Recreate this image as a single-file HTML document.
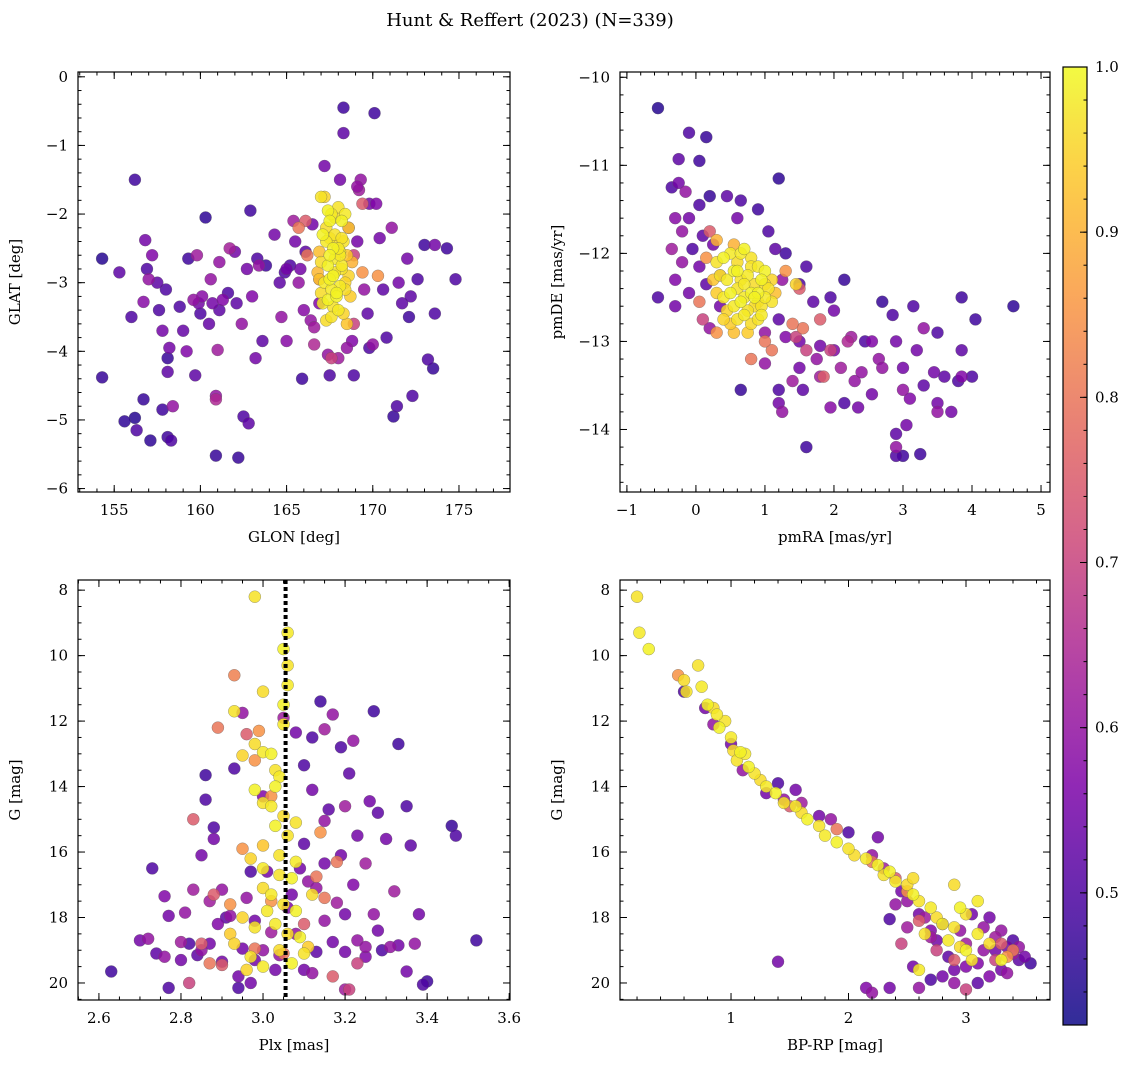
<!DOCTYPE html>
<html><head><meta charset="utf-8"><style>
body{margin:0;background:#fff;}
svg{display:block;font-family:"DejaVu Serif","Liberation Serif",serif;}
</style></head><body>
<svg id="chart" width="1136" height="1067" viewBox="0 0 1136 1067" xmlns="http://www.w3.org/2000/svg">
<text x="530" y="26" font-size="18" text-anchor="middle">Hunt &amp; Reffert (2023) (N=339)</text>
</svg>
<script>
// ---- Panel 1: GLON vs GLAT ----
const glonLow=[154.3,154.3,155.3,155.6,156.0,156.2,156.2,156.3,156.7,156.8,156.7,156.9,157.0,157.1,157.2,157.5,157.6,157.8,157.8,158.0,158.1,158.1,158.2,158.1,158.3,158.4,158.8,159.0,159.2,159.3,159.6,159.7,159.8,159.9,160.0,160.1,160.3,160.5,160.6,160.7,160.9,160.9,160.9,161.0,161.1,161.1,161.3,161.6,161.7,162.0,162.1,162.2,162.4,162.5,162.7,162.8,162.9,163.0,163.2,163.3,163.4,163.6,163.8,164.3,164.6,164.7,164.9,165.0,165.0,165.2,165.4,165.5,165.7,165.9,165.8,166.0,166.1,166.4,166.5,166.6,166.9,167.2,167.4,167.5,168.0,168.1,168.3,168.3,168.5,168.8,168.9,169.2,169.1,169.5,169.7,169.8,170.2,170.1,170.4,170.6,170.8,171.1,171.2,171.4,171.5,171.7,172.1,172.0,172.3,172.2,172.6,173.0,173.2,173.5,173.6,173.6,174.3,174.8,169.8,169.3];
const glatLow=[-2.65,-4.38,-2.85,-5.02,-3.5,-1.5,-4.97,-5.15,-4.7,-2.38,-3.28,-2.8,-2.95,-5.3,-2.6,-3.0,-3.4,-3.7,-4.85,-3.1,-4.3,-4.1,-3.95,-5.25,-5.3,-4.8,-3.35,-3.7,-4.0,-2.65,-3.25,-4.35,-2.6,-3.3,-3.45,-3.2,-2.05,-3.6,-2.95,-3.3,-4.7,-4.65,-5.52,-3.98,-3.4,-2.7,-3.25,-3.15,-2.5,-2.55,-3.3,-5.55,-3.6,-4.95,-2.8,-5.05,-1.95,-3.2,-4.1,-2.65,-2.75,-3.85,-2.75,-2.3,-3.0,-3.5,-2.85,-3.85,-2.8,-2.75,-2.1,-2.4,-3.0,-4.4,-2.8,-3.4,-2.55,-3.55,-2.15,-3.65,-3.3,-1.3,-4.05,-4.35,-4.1,-1.5,-0.45,-0.82,-3.95,-3.85,-4.35,-1.65,-2.4,-3.1,-3.45,-3.95,-1.85,-0.53,-2.35,-3.1,-3.8,-2.2,-4.95,-4.8,-3.0,-3.3,-3.5,-2.65,-4.65,-3.2,-2.95,-2.45,-4.12,-4.25,-2.45,-3.45,-2.5,-2.95,-1.85,-1.5];
const probLow1=[0.45,0.47,0.52,0.46,0.5,0.48,0.45,0.5,0.47,0.55,0.58,0.5,0.6,0.46,0.57,0.52,0.5,0.55,0.48,0.5,0.52,0.47,0.55,0.48,0.5,0.6,0.5,0.53,0.57,0.48,0.6,0.52,0.62,0.55,0.5,0.58,0.46,0.53,0.6,0.55,0.65,0.6,0.47,0.62,0.52,0.6,0.57,0.5,0.63,0.55,0.52,0.47,0.6,0.5,0.55,0.52,0.48,0.57,0.55,0.5,0.6,0.52,0.48,0.55,0.52,0.6,0.5,0.58,0.55,0.5,0.62,0.55,0.6,0.48,0.55,0.58,0.52,0.6,0.55,0.62,0.57,0.55,0.6,0.5,0.62,0.55,0.48,0.52,0.6,0.57,0.5,0.62,0.55,0.6,0.52,0.5,0.57,0.48,0.55,0.52,0.5,0.6,0.47,0.5,0.55,0.52,0.48,0.55,0.5,0.52,0.5,0.48,0.5,0.47,0.55,0.5,0.48,0.5,0.55,0.6];
const glonMid=[166.1,166.9,168.9,168.6,169.4,170.0,166.6,166.2,169.4,169.1,170.3,167.6,168.9,165.7];
const glatMid=[-2.1,-2.95,-2.6,-2.2,-1.85,-3.9,-3.9,-2.6,-2.85,-1.6,-2.9,-4.1,-3.6,-2.2];
const probMid1=[0.75,0.7,0.7,0.65,0.75,0.6,0.65,0.8,0.85,0.6,0.85,0.7,0.7,0.8];
const glonHigh=[167.0,167.2,167.4,167.6,167.8,168.0,168.2,168.4,168.6,167.1,167.3,167.5,167.7,167.9,168.1,168.3,168.5,167.0,167.4,167.8,168.2,168.6,166.9,167.2,167.5,167.8,168.1,168.4,168.7,167.1,167.4,167.7,168.0,168.3,167.3,167.6,167.9,168.2,167.5,167.8,168.1,167.7,168.0,166.9,168.8,167.3,168.4,167.6,167.9,168.2,166.8,167.0,168.5,167.5];
const glatHigh=[-1.75,-1.75,-1.95,-2.0,-2.05,-1.9,-2.1,-2.0,-2.2,-2.3,-2.4,-2.35,-2.5,-2.45,-2.55,-2.4,-2.6,-2.7,-2.75,-2.65,-2.8,-2.9,-2.95,-3.0,-2.95,-2.85,-3.05,-3.1,-3.2,-3.3,-3.25,-3.35,-3.4,-3.45,-3.55,-3.5,-3.2,-2.75,-2.1,-2.3,-2.6,-2.9,-2.5,-2.55,-2.7,-2.2,-3.0,-3.1,-3.15,-2.35,-2.85,-3.15,-3.6,-2.6];
const probHigh1=[0.97,0.95,0.99,0.98,0.96,0.97,0.99,0.98,0.94,0.99,0.98,0.97,0.99,0.96,0.98,0.97,0.93,0.96,0.99,0.98,0.97,0.95,0.93,0.98,0.99,0.97,0.98,0.96,0.94,0.98,0.99,0.97,0.98,0.95,0.96,0.97,0.99,0.98,0.99,0.97,0.98,0.99,0.98,0.92,0.9,0.96,0.95,0.98,0.99,0.97,0.91,0.96,0.93,0.99];

// ---- Panel 2: pmRA vs pmDE ----
const pmraLow=[-0.55,-0.1,0.15,-0.25,0.05,-0.25,-0.35,0.2,-0.15,0.45,0.05,-0.1,1.2,0.65,0.9,-0.3,0.6,-0.2,0.1,-0.05,-0.35,0.25,1.05,1.15,1.3,-0.2,0.05,1.6,-0.3,0.15,-0.1,1.25,1.5,2.15,-0.55,-0.3,1.7,1.95,2.0,1.0,1.3,1.5,1.2,0.2,0.35,0.65,1.0,1.2,1.4,1.5,1.55,1.75,1.8,2.0,2.1,2.15,1.6,1.2,1.25,1.8,2.45,2.55,2.7,2.65,2.85,2.9,2.9,2.9,2.9,3.0,3.0,3.1,3.15,3.2,3.25,3.3,3.3,3.45,3.5,3.5,3.6,3.7,3.8,3.85,3.85,3.85,4.0,4.05,4.6,3.05,2.3,2.25,2.35,1.95,3.0,2.55,3.5,2.7];
const pmdeLow=[-10.35,-10.63,-10.68,-10.93,-10.95,-11.2,-11.25,-11.35,-11.3,-11.35,-11.45,-11.6,-11.15,-11.4,-11.5,-11.6,-11.6,-11.75,-11.8,-11.95,-11.95,-11.9,-11.75,-11.95,-12.0,-12.1,-12.15,-12.15,-12.3,-12.35,-12.45,-12.3,-12.35,-12.3,-12.5,-12.6,-12.55,-12.5,-12.65,-12.9,-12.95,-13.0,-12.75,-12.85,-12.6,-13.55,-13.25,-13.55,-13.45,-13.3,-13.55,-13.2,-13.05,-13.1,-13.3,-13.7,-14.2,-13.7,-13.8,-13.4,-13.0,-13.6,-12.55,-13.2,-12.7,-13.0,-14.05,-14.3,-14.2,-13.3,-14.3,-13.65,-12.6,-13.1,-14.28,-12.85,-13.5,-13.35,-12.9,-13.8,-13.4,-13.8,-13.45,-12.5,-13.1,-13.4,-13.4,-12.75,-12.6,-13.95,-13.45,-12.95,-13.75,-13.75,-13.55,-13.0,-13.7,-13.3];
const probLow2=[0.45,0.5,0.47,0.52,0.48,0.55,0.5,0.47,0.6,0.52,0.5,0.55,0.46,0.5,0.48,0.58,0.55,0.6,0.52,0.5,0.62,0.55,0.5,0.52,0.48,0.6,0.55,0.5,0.57,0.52,0.55,0.6,0.5,0.47,0.5,0.55,0.52,0.5,0.55,0.6,0.57,0.55,0.52,0.6,0.55,0.47,0.6,0.5,0.62,0.55,0.52,0.6,0.55,0.57,0.62,0.5,0.48,0.55,0.6,0.62,0.5,0.55,0.47,0.6,0.5,0.55,0.52,0.5,0.6,0.55,0.48,0.57,0.5,0.55,0.48,0.6,0.52,0.55,0.5,0.6,0.52,0.55,0.5,0.48,0.52,0.57,0.5,0.48,0.46,0.55,0.6,0.62,0.55,0.58,0.6,0.57,0.55,0.6];
const pmraMid=[1.8,1.95,2.2,2.4,1.6,1.45,1.55,1.85,0.05,0.3,0.35,0.8,1.1,1.5,0.2,0.15,0.3,0.1,1.3,0.55,1.0,1.4,1.45];
const pmdeMid=[-12.75,-13.1,-13.0,-13.35,-13.1,-12.95,-12.85,-13.4,-12.55,-12.9,-12.25,-13.2,-13.1,-12.4,-11.75,-12.05,-11.85,-12.75,-12.2,-11.9,-13.0,-12.8,-12.35];
const probMid2=[0.75,0.7,0.65,0.6,0.7,0.7,0.8,0.75,0.8,0.85,0.7,0.8,0.8,0.75,0.75,0.85,0.9,0.7,0.85,0.9,0.8,0.8,0.95];
const pmraHigh=[0.3,0.4,0.5,0.6,0.7,0.8,0.9,1.0,1.1,0.35,0.45,0.55,0.65,0.75,0.85,0.95,1.05,0.3,0.4,0.5,0.6,0.7,0.8,0.9,1.0,1.1,0.45,0.55,0.65,0.75,0.85,0.95,0.5,0.6,0.7,0.8,0.9,0.6,0.7,0.8,0.9,1.0,0.25,0.55,0.75,0.95,0.65,0.85,0.4,1.15];
const pmdeHigh=[-12.1,-12.05,-12.0,-12.1,-11.95,-12.05,-12.15,-12.2,-12.3,-12.25,-12.3,-12.2,-12.3,-12.25,-12.35,-12.3,-12.4,-12.45,-12.5,-12.45,-12.4,-12.5,-12.45,-12.55,-12.5,-12.55,-12.65,-12.6,-12.55,-12.65,-12.6,-12.7,-12.8,-12.75,-12.7,-12.8,-12.75,-12.2,-12.35,-12.15,-12.45,-12.35,-12.3,-12.9,-12.9,-12.6,-12.0,-12.5,-12.75,-12.45];
const probHigh2=[0.97,0.99,0.98,0.96,0.99,0.97,0.98,0.99,0.95,0.97,0.98,0.99,0.97,0.98,0.96,0.99,0.97,0.94,0.98,0.99,0.97,0.98,0.99,0.96,0.98,0.97,0.95,0.98,0.99,0.97,0.96,0.98,0.94,0.97,0.98,0.96,0.97,0.99,0.98,0.97,0.99,0.96,0.93,0.92,0.94,0.97,0.98,0.99,0.95,0.92];

// ---- Panel 3: Plx vs G ----
const plxLow=[2.63,2.7,2.72,2.73,2.74,2.76,2.76,2.77,2.77,2.8,2.8,2.81,2.82,2.83,2.84,2.85,2.85,2.86,2.86,2.87,2.87,2.88,2.88,2.89,2.9,2.9,2.91,2.92,2.93,2.94,2.94,2.95,2.95,2.96,2.97,2.98,3.0,3.0,3.01,3.02,3.03,3.04,3.06,3.07,3.08,3.09,3.1,3.1,3.1,3.11,3.12,3.12,3.13,3.13,3.14,3.15,3.15,3.15,3.16,3.17,3.17,3.18,3.19,3.19,3.2,3.2,3.21,3.22,3.22,3.23,3.23,3.25,3.25,3.26,3.27,3.27,3.28,3.28,3.29,3.3,3.31,3.32,3.33,3.33,3.35,3.35,3.36,3.37,3.38,3.39,3.4,3.46,3.47,3.52,3.08,3.05,3.15,3.2,3.25,2.98,3.12,2.97,3.2];
const gLow3=[19.65,18.7,18.65,16.5,19.1,19.2,17.35,17.95,20.15,18.75,19.3,17.85,18.8,17.15,19.15,16.1,19.0,14.4,13.65,18.8,17.5,15.25,15.6,18.2,17.15,19.35,18.0,17.95,13.45,19.8,20.15,11.75,18.95,17.4,16.6,18.1,14.3,19.0,16.6,18.45,19.6,19.15,17.7,17.3,18.5,16.5,15.75,13.35,19.6,16.9,12.5,14.1,17.1,19.05,11.4,12.25,16.35,18.1,14.7,11.8,18.75,17.55,16.1,12.8,14.6,19.05,13.6,12.6,17.0,15.5,18.7,19.2,16.35,14.45,11.7,17.9,14.8,18.4,19.0,15.6,18.9,17.2,12.7,18.85,14.6,19.65,15.8,18.8,17.9,20.05,19.95,15.2,15.5,18.7,12.35,11.9,15.05,17.9,18.9,19.3,19.7,20.0,20.2];
const probLow3=[0.48,0.55,0.6,0.5,0.52,0.6,0.57,0.55,0.5,0.62,0.55,0.6,0.5,0.62,0.52,0.55,0.6,0.5,0.48,0.55,0.62,0.5,0.55,0.57,0.6,0.55,0.52,0.6,0.5,0.55,0.5,0.6,0.55,0.6,0.5,0.55,0.57,0.6,0.55,0.62,0.55,0.6,0.57,0.55,0.6,0.55,0.52,0.5,0.55,0.6,0.5,0.55,0.6,0.52,0.48,0.62,0.55,0.6,0.52,0.6,0.55,0.62,0.55,0.5,0.62,0.55,0.52,0.6,0.57,0.55,0.6,0.57,0.62,0.55,0.48,0.6,0.52,0.55,0.5,0.55,0.6,0.62,0.48,0.55,0.5,0.55,0.52,0.6,0.55,0.5,0.48,0.47,0.5,0.48,0.55,0.62,0.6,0.55,0.6,0.55,0.6,0.55,0.62];
const plxMid=[2.93,2.89,2.96,2.98,2.83,2.99,2.88,2.92,2.85,2.82,2.9,2.98,3.02,3.05,3.1,3.15,3.18,3.21,3.23,3.14,3.13,3.02,2.87,2.95,3.17];
const gMid3=[10.6,12.2,12.4,13.2,15.0,12.3,17.3,17.6,18.8,20.0,19.45,18.95,17.5,19.1,18.2,17.4,16.3,20.2,19.4,15.4,16.75,14.3,19.4,15.9,19.8];
const probMid3=[0.82,0.8,0.75,0.85,0.75,0.85,0.75,0.85,0.75,0.7,0.75,0.8,0.85,0.8,0.75,0.8,0.8,0.7,0.7,0.85,0.8,0.85,0.8,0.85,0.75];
const plxHigh=[2.98,3.06,3.05,3.06,3.06,3.0,3.05,2.93,3.05,2.98,3.0,3.02,2.95,3.03,3.04,2.98,3.0,3.02,3.05,3.03,3.06,2.97,3.0,3.04,3.07,3.0,3.02,3.05,3.08,2.95,2.98,3.03,3.06,3.09,3.11,2.93,2.97,3.0,3.04,3.07,3.1,3.12,3.01,3.04,2.96,3.0,3.08,2.92,3.08,3.03];
const gHigh3=[8.2,9.3,9.8,10.3,10.9,11.1,11.5,11.7,12.1,12.7,12.95,13.0,13.05,13.5,13.7,14.1,14.5,14.6,14.9,15.2,15.5,16.2,16.5,16.7,16.8,17.1,17.3,17.6,17.8,18.0,18.3,18.2,18.5,18.6,18.9,18.8,19.2,19.5,19.0,19.4,19.1,17.3,17.8,16.1,19.6,15.8,16.3,18.5,15.1,14.0];
const probHigh3=[0.97,0.98,0.99,0.97,0.98,0.96,0.99,0.97,0.98,0.96,0.98,0.99,0.95,0.97,0.98,0.99,0.97,0.98,0.96,0.99,0.97,0.95,0.98,0.97,0.99,0.96,0.98,0.97,0.99,0.95,0.97,0.98,0.96,0.99,0.94,0.95,0.97,0.98,0.96,0.99,0.97,0.96,0.98,0.97,0.95,0.93,0.98,0.94,0.97,0.99];

// ---- Panel 4: BP-RP vs G ----
const bprpHigh=[0.2,0.22,0.3,0.72,0.6,0.75,0.62,0.8,0.85,0.88,0.95,0.9,1.0,1.02,1.08,1.05,1.12,1.15,1.2,1.25,1.3,1.38,1.45,1.55,1.6,1.65,1.75,1.8,1.9,2.0,2.05,2.15,2.25,2.3,2.4,2.5,2.55,2.6,2.7,2.75,2.8,2.9,2.85,2.95,3.0,3.05,3.1,3.2,3.3,2.65,2.6,2.9,2.95,3.0,3.1,2.55,2.35];
const gHigh4=[8.2,9.3,9.8,10.3,10.75,10.95,11.1,11.5,11.6,11.8,12.0,12.2,12.5,12.9,12.95,13.2,13.0,13.4,13.6,13.8,14.0,14.2,14.5,14.6,14.8,15.0,15.2,15.5,15.7,15.9,16.1,16.2,16.4,16.7,16.9,17.0,17.3,17.5,17.7,18.0,18.2,18.3,18.7,18.9,19.0,19.3,18.5,18.8,19.3,18.5,19.6,17.0,17.7,17.9,17.5,16.8,16.6];
const probHigh4=[0.97,0.98,0.99,0.97,0.96,0.98,0.97,0.99,0.96,0.98,0.97,0.99,0.98,0.96,0.99,0.97,0.98,0.99,0.97,0.96,0.98,0.99,0.97,0.98,0.96,0.99,0.97,0.98,0.99,0.97,0.96,0.98,0.99,0.97,0.98,0.96,0.99,0.97,0.98,0.96,0.99,0.97,0.98,0.96,0.99,0.97,0.98,0.96,0.99,0.97,0.98,0.96,0.99,0.97,0.98,0.96,0.99];
const bprpMid=[0.55,2.2,2.4,2.5,2.6,2.75,3.3,3.25,2.9,1.5,1.9,3.4,3.35,2.45,3.0];
const gMid4=[10.6,16.3,16.8,17.2,18.1,19.0,18.8,19.3,19.3,14.6,15.3,19.0,19.2,18.8,20.2];
const probMid4=[0.85,0.8,0.75,0.85,0.75,0.7,0.75,0.7,0.75,0.75,0.8,0.8,0.85,0.7,0.7];
const bprpLow=[0.6,0.78,0.85,1.0,1.1,1.3,1.4,1.45,1.55,1.6,1.75,1.85,2.0,2.25,2.2,2.3,2.35,2.45,2.5,2.6,2.65,2.7,2.75,2.8,2.85,2.9,2.95,3.0,3.05,3.1,3.15,3.2,3.25,3.3,3.35,3.4,3.45,3.5,3.55,3.45,3.3,3.2,3.1,2.9,2.8,2.7,2.6,2.35,2.15,2.2,1.4,2.4,2.7,3.0,3.25,3.35,2.5,2.55,3.15,3.4];
const gLow4=[11.1,11.6,12.1,12.7,13.5,14.2,13.9,14.4,14.1,14.5,14.9,15.0,15.4,15.55,16.1,16.5,18.05,17.2,17.5,17.9,18.0,18.4,18.7,18.2,19.2,19.6,18.4,18.8,17.9,19.4,18.3,18.0,18.6,18.4,18.9,18.7,19.3,19.2,19.4,18.9,19.6,19.8,20.0,20.0,19.8,19.9,20.15,20.15,20.15,20.3,19.35,17.6,18.6,19.5,19.0,19.7,18.3,19.5,19.0,19.1];
const probLow4=[0.5,0.55,0.6,0.55,0.6,0.55,0.5,0.6,0.55,0.62,0.55,0.6,0.5,0.55,0.6,0.62,0.5,0.55,0.6,0.55,0.62,0.57,0.55,0.6,0.52,0.55,0.6,0.62,0.55,0.57,0.6,0.55,0.62,0.6,0.55,0.5,0.52,0.55,0.48,0.6,0.55,0.57,0.52,0.6,0.55,0.5,0.6,0.55,0.57,0.6,0.55,0.6,0.62,0.57,0.55,0.6,0.62,0.55,0.6,0.62];

const vmin=0.42, vmax=1.0;
const stops=[[0,[13,8,135]],[0.13,[75,3,161]],[0.25,[125,3,168]],[0.38,[168,34,150]],[0.5,[203,70,121]],[0.63,[229,107,93]],[0.75,[248,148,65]],[0.88,[253,195,40]],[1,[240,249,33]]];
function plasma(t){t=Math.max(0,Math.min(1,t));for(let i=1;i<stops.length;i++){if(t<=stops[i][0]){const a=stops[i-1],b=stops[i],f=(t-a[0])/(b[0]-a[0]);return 'rgb('+[0,1,2].map(k=>Math.round(a[1][k]+f*(b[1][k]-a[1][k]))).join(',')+')';}}return 'rgb(240,249,33)';}
const NS='http://www.w3.org/2000/svg';
const svg=document.getElementById('chart');
function mk(tag,attrs,parent){const e=document.createElementNS(NS,tag);for(const k in attrs)e.setAttribute(k,attrs[k]);(parent||svg).appendChild(e);return e;}

const panels=[
 {name:'glon-glat',box:[78,72,510,492],x:[152.9,177.96],y:[0.07,-6.05],xt:[155,160,165,170,175],yt:[0,-1,-2,-3,-4,-5,-6],xm:1,ym:0.2,xl:'GLON [deg]',yl:'GLAT [deg]',
  sets:[[glonLow,glatLow,probLow1],[glonMid,glatMid,probMid1],[glonHigh,glatHigh,probHigh1]]},
 {name:'pmra-pmde',box:[620,72,1050,492],x:[-1.1,5.13],y:[-9.94,-14.71],xt:[-1,0,1,2,3,4,5],yt:[-10,-11,-12,-13,-14],xm:0.2,ym:0.2,xl:'pmRA [mas/yr]',yl:'pmDE [mas/yr]',
  sets:[[pmraLow,pmdeLow,probLow2],[pmraMid,pmdeMid,probMid2],[pmraHigh,pmdeHigh,probHigh2]]},
 {name:'plx-g',box:[78,580,510,1000],x:[2.549,3.602],y:[7.69,20.52],xt:[2.6,2.8,3.0,3.2,3.4,3.6],yt:[8,10,12,14,16,18,20],xm:0.05,ym:0.5,xl:'Plx [mas]',yl:'G [mag]',fmt:1,vline:3.055,
  sets:[[plxLow,gLow3,probLow3],[plxMid,gMid3,probMid3],[plxHigh,gHigh3,probHigh3]]},
 {name:'bprp-g',box:[620,580,1050,1000],x:[0.055,3.715],y:[7.69,20.52],xt:[1,2,3],yt:[8,10,12,14,16,18,20],xm:0.2,ym:0.5,xl:'BP-RP [mag]',yl:'G [mag]',
  sets:[[bprpLow,gLow4,probLow4],[bprpMid,gMid4,probMid4],[bprpHigh,gHigh4,probHigh4]]}
];
function fmtNum(v,d){let s=d?v.toFixed(d):String(v);return s.replace('-','\u2212');}
panels.forEach(p=>{
 const [x0,y0,x1,y1]=p.box;
 const sx=v=>x0+(v-p.x[0])/(p.x[1]-p.x[0])*(x1-x0);
 const sy=v=>y0+(v-p.y[0])/(p.y[1]-p.y[0])*(y1-y0);
 const g=mk('g',{});
 
 
 const clipId='clip-'+p.name;
 const cp=mk('clipPath',{id:clipId},g);mk('rect',{x:x0,y:y0,width:x1-x0,height:y1-y0},cp);
 const pts=mk('g',{'clip-path':'url(#'+clipId+')'},g);
 
 
 p.sets.forEach(([xs,ys,ps])=>{
  const idx=xs.map((_,i)=>i).sort((a,b)=>ps[a]-ps[b]);
  idx.forEach(i=>{
   const c=mk('circle',{cx:sx(xs[i]),cy:sy(ys[i]),r:6,fill:plasma((ps[i]-vmin)/(vmax-vmin)),'fill-opacity':0.85,stroke:'rgba(90,90,90,0.6)','stroke-width':0.5},pts);
   
   
  });
 });
 if(p.vline!==undefined){
  const l=mk('line',{x1:sx(p.vline),x2:sx(p.vline),y1:y0,y2:y1,stroke:'#000','stroke-width':4,'stroke-dasharray':'4,3'},g);
  
  
 }
 const fr=mk('rect',{x:x0,y:y0,width:x1-x0,height:y1-y0,fill:'none',stroke:'#000','stroke-width':1.2},g);
 
 
 // minor ticks
 const xs0=Math.min(p.x[0],p.x[1]),xs1=Math.max(p.x[0],p.x[1]);
 for(let v=Math.ceil(xs0/p.xm-1e-6)*p.xm;v<=xs1;v+=p.xm){const X=sx(v);mk('line',{x1:X,x2:X,y1:y1,y2:y1-3.5,stroke:'#000'},g);mk('line',{x1:X,x2:X,y1:y0,y2:y0+3.5,stroke:'#000'},g);}
 const ys0=Math.min(p.y[0],p.y[1]),ys1=Math.max(p.y[0],p.y[1]);
 for(let v=Math.ceil(ys0/p.ym-1e-6)*p.ym;v<=ys1;v+=p.ym){const Y=sy(v);mk('line',{x1:x0,x2:x0+3.5,y1:Y,y2:Y,stroke:'#000'},g);mk('line',{x1:x1,x2:x1-3.5,y1:Y,y2:Y,stroke:'#000'},g);}
 p.xt.forEach(v=>{const X=sx(v);mk('line',{x1:X,x2:X,y1:y1,y2:y1-7,stroke:'#000'},g);mk('line',{x1:X,x2:X,y1:y0,y2:y0+7,stroke:'#000'},g);
  const t=mk('text',{x:X,y:y1+23,'font-size':15,'text-anchor':'middle'},g);t.textContent=fmtNum(v,p.fmt);
  
  });
 p.yt.forEach(v=>{const Y=sy(v);mk('line',{x1:x0,x2:x0+7,y1:Y,y2:Y,stroke:'#000'},g);mk('line',{x1:x1,x2:x1-7,y1:Y,y2:Y,stroke:'#000'},g);
  const t=mk('text',{x:x0-10,y:Y+5,'font-size':15,'text-anchor':'end'},g);t.textContent=fmtNum(v);
  
  });
 const xl=mk('text',{x:(x0+x1)/2,y:y1+50,'font-size':15,'text-anchor':'middle'},g);xl.textContent=p.xl;
 
 
 const yx=x0-58,yy=(y0+y1)/2;
 const yl=mk('text',{x:yx,y:yy,'font-size':15,'text-anchor':'middle',transform:'rotate(-90 '+yx+' '+yy+')'},g);yl.textContent=p.yl;
 
 
});
// colorbar
const cbTicks=[0.5,0.6,0.7,0.8,0.9,1.0];
(function(){
 const cx0=1063,cx1=1087,cy0=67,cy1=1025;
 const cs=v=>cy1-(v-vmin)/(vmax-vmin)*(cy1-cy0);
 const g=mk('g',{});
 
 
 const defs=mk('defs',{},g);
 const lg=mk('linearGradient',{id:'cbgrad',x1:0,y1:1,x2:0,y2:0},defs);
 for(let i=0;i<=20;i++)mk('stop',{offset:i/20,'stop-color':plasma(i/20),'stop-opacity':0.85},lg);
 mk('rect',{x:cx0,y:cy0,width:cx1-cx0,height:cy1-cy0,fill:'url(#cbgrad)',stroke:'#000','stroke-width':1.2},g);
 for(let v=0.44;v<=1.0001;v+=0.02){const Y=cs(v);mk('line',{x1:cx1,x2:cx1-3.5,y1:Y,y2:Y,stroke:'#000'},g);}
 cbTicks.forEach(v=>{const Y=cs(v);mk('line',{x1:cx1,x2:cx1-7,y1:Y,y2:Y,stroke:'#000'},g);
  const t=mk('text',{x:cx1+8,y:Y+5,'font-size':15},g);t.textContent=v.toFixed(1);
  
  });
})();
</script>
</body></html>
